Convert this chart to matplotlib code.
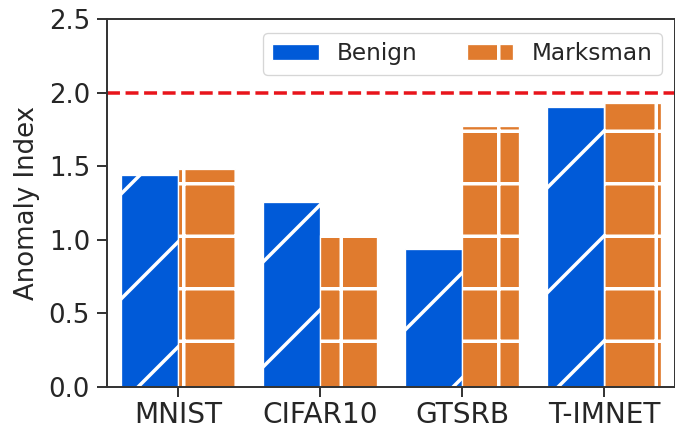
import matplotlib
matplotlib.use('Agg')
import numpy as np
import matplotlib.pyplot as plt

datasets = ['MNIST', 'CIFAR10', 'GTSRB', 'T-IMNET']
benign = [1.44, 1.26, 0.94, 1.90]
marksman = [1.48, 1.03, 1.77, 1.93]
threshold = 2.0

DPI = 315
plt.rcParams['hatch.linewidth'] = 0.8
plt.rcParams['font.family'] = 'DejaVu Sans'
text_c = '#262626'

fig = plt.figure(figsize=(675 / DPI, 430 / DPI), dpi=DPI)
ax = fig.add_axes([107 / 675, 43 / 430, 568 / 675, 368 / 430])

x = np.arange(len(datasets))
w = 0.4
ax.bar(x - w / 2, benign, w, color='#005ad8', edgecolor='white', linewidth=0.3,
       hatch='/', label='Benign')
ax.bar(x + w / 2, marksman, w, color='#e07b2e', edgecolor='white', linewidth=0.3,
       hatch='+', label='Marksman')
ax.axhline(threshold, color='#e8141b', ls='--', lw=0.8)

ax.set_xlim(-0.5, len(datasets) - 0.5)
ax.set_ylim(0, 2.5)
ax.set_yticks(np.arange(0, 2.51, 0.5))
ax.set_xticks(x)
ax.set_xticklabels(datasets, fontsize=6.4, color=text_c)
ax.tick_params(axis='y', labelsize=5.95, labelcolor=text_c)
ax.tick_params(length=2.3, width=0.45, color='#333333', pad=1.6)
ax.tick_params(axis='x', pad=1.0)
ax.set_ylabel('Anomaly Index', fontsize=5.95, color=text_c, labelpad=2)
for s in ax.spines.values():
    s.set_linewidth(0.45)
    s.set_color('#333333')

leg = ax.legend(ncol=2, fontsize=5.3, loc='upper right',
                bbox_to_anchor=(0.997, 0.993), frameon=True,
                columnspacing=2.1)
leg.get_frame().set_linewidth(0.3)
leg.get_frame().set_edgecolor('#cccccc')
for t in leg.get_texts():
    t.set_color(text_c)

fig.savefig('out.png', dpi=DPI)
